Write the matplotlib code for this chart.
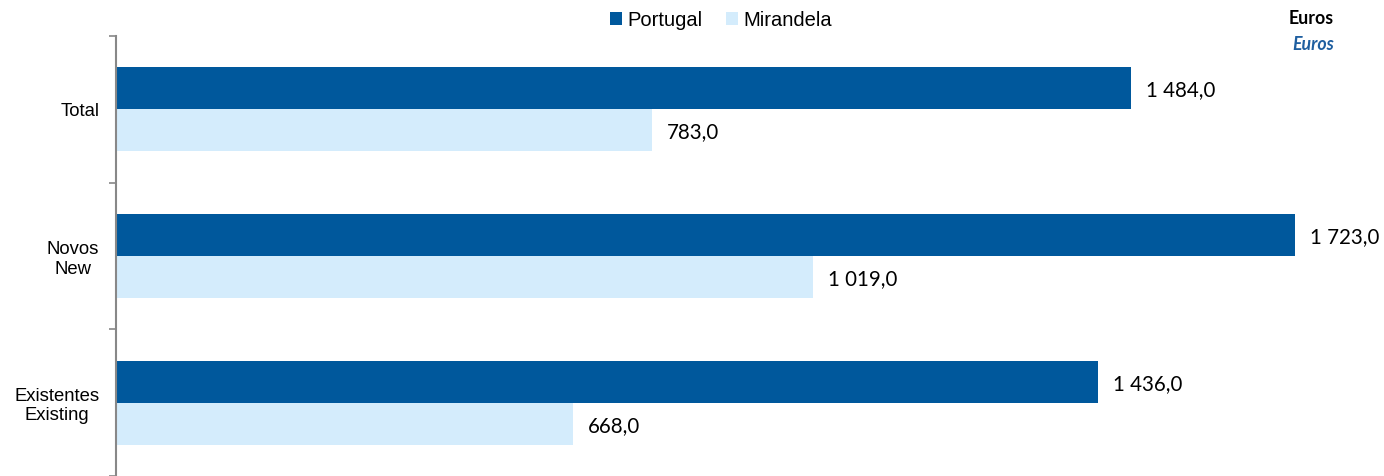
import matplotlib
matplotlib.use("Agg")
import matplotlib.pyplot as plt
import numpy as np

categories = ["Total", "Novos\nNew", "Existentes\nExisting"]
series_names = ["Portugal", "Mirandela"]
portugal = [1484.0, 1723.0, 1436.0]
mirandela = [783.0, 1019.0, 668.0]
colors = ["#00589C", "#D4ECFC"]

W, H = 1384, 476
fig = plt.figure(figsize=(W / 100, H / 100), dpi=100)
ax = fig.add_axes([116 / W, 0, (W - 116) / W, (H - 36) / H])

y = np.arange(len(categories))
bh = 0.286
b1 = ax.barh(y - bh / 2, portugal, height=bh, color=colors[0], label=series_names[0])
b2 = ax.barh(y + bh / 2, mirandela, height=bh, color=colors[1], label=series_names[1])

def fmt(v):
    s = f"{v:,.1f}".replace(",", " ").replace(".", ",")
    return s

for bars, vals in ((b1, portugal), (b2, mirandela)):
    for rect, v in zip(bars, vals):
        ax.annotate(fmt(v), (rect.get_width(), rect.get_y() + rect.get_height() / 2),
                    xytext=(10.8, -1.5), textcoords="offset points",
                    va="center", ha="left", fontsize=14.8, family=["Lato", "DejaVu Sans"],
                    color="#000000")

ax.set_xlim(0, (W - 116) / 0.684)
ax.set_ylim(2.5, -0.5)
ax.set_yticks([-0.5, 0.5, 1.5, 2.5])
ax.set_yticklabels([])
ax.set_yticks(y, minor=True)
ax.set_yticklabels(categories, minor=True, fontsize=13.3, family=["Liberation Sans", "DejaVu Sans"],
                   ha="right", multialignment="center")
ax.tick_params(axis="y", which="minor", length=0, pad=12)
ax.tick_params(axis="y", which="major", length=5, color="#888888", width=1.2)
ax.set_xticks([])
for s in ["top", "right", "bottom"]:
    ax.spines[s].set_visible(False)
ax.spines["left"].set_color("#888888")
ax.spines["left"].set_linewidth(1.5)

leg = fig.legend(handles=[b1, b2], labels=series_names, loc="center", bbox_to_anchor=(721 / W, 1 - 20 / H),
                 ncol=2, frameon=False, handlelength=0.6, handleheight=0.6,
                 handletextpad=0.25, columnspacing=1.2, prop={"family": "Liberation Sans", "size": 14.5})

fig.text(1334 / W, 1 - 18 / H, "Euros", ha="right", va="center", fontsize=12.8,
         fontweight="bold", family=["Lato", "DejaVu Sans"], color="black")
fig.text(1334 / W, 1 - 44 / H, "Euros", ha="right", va="center", fontsize=12.8,
         fontweight="bold", style="italic", family=["Lato", "DejaVu Sans"], color="#1F5FA0")

fig.savefig("out.png", dpi=100)
